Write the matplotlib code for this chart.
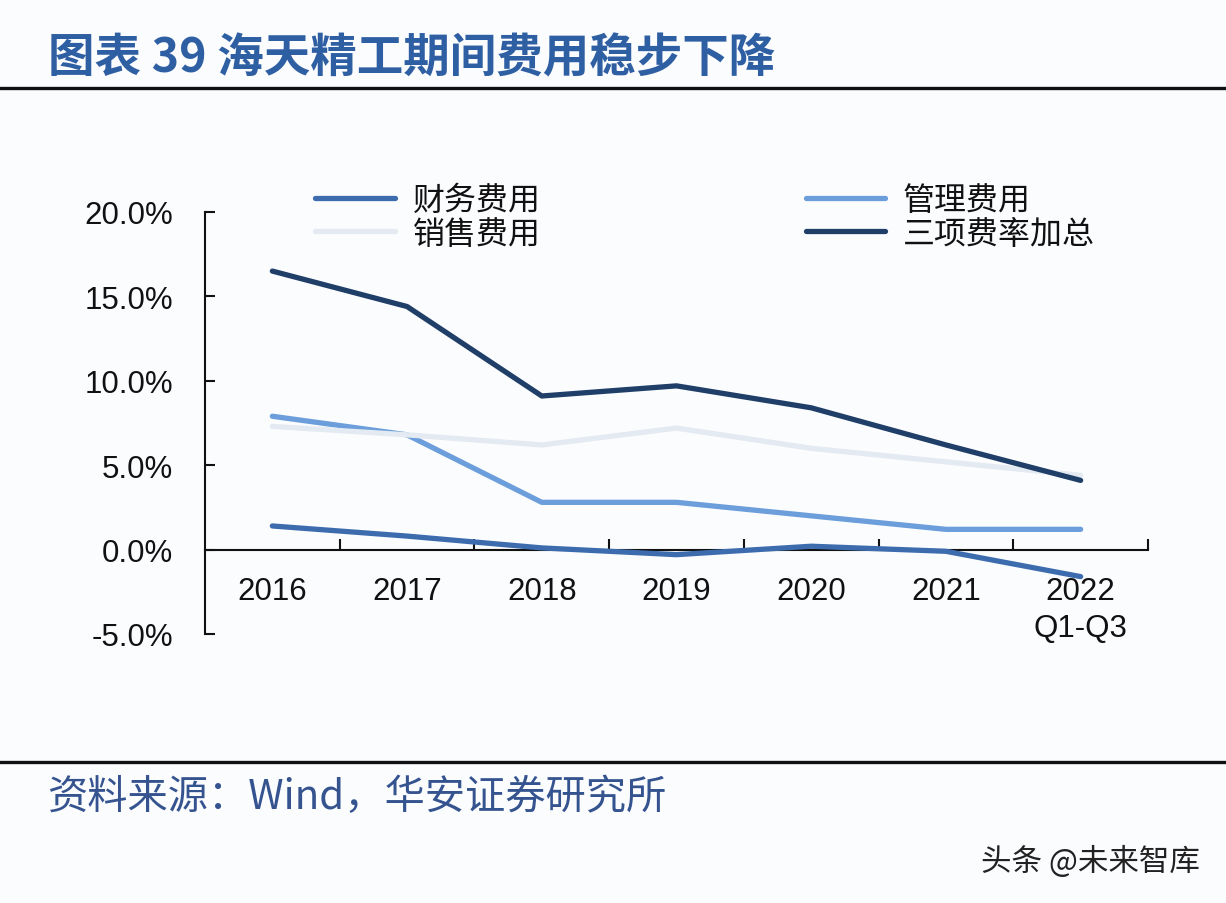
import matplotlib
matplotlib.use("Agg")
import matplotlib.pyplot as plt
from matplotlib.lines import Line2D

plt.rcParams['font.family'] = ['Noto Sans CJK SC', 'DejaVu Sans']

categories = ['2016', '2017', '2018', '2019', '2020', '2021', '2022\nQ1-Q3']
finance = [1.4, 0.8, 0.1, -0.3, 0.2, -0.1, -1.6]      # 财务费用
admin = [7.9, 6.8, 2.8, 2.8, 2.0, 1.2, 1.2]           # 管理费用
sales = [7.3, 6.8, 6.2, 7.2, 6.0, 5.2, 4.4]           # 销售费用
total = [16.5, 14.4, 9.1, 9.7, 8.4, 6.2, 4.1]         # 三项费率加总
yticks = [-5, 0, 5, 10, 15, 20]

W, H = 1226, 904
bg = '#FBFCFE'
fig = plt.figure(figsize=(W / 100, H / 100), dpi=100, facecolor=bg)

# Title and separators
fig.text(48 / W, 1 - 58 / H, '图表 39 海天精工期间费用稳步下降', fontsize=33.5, fontweight='bold',
         color='#2F5FA3', ha='left', va='center')
fig.add_artist(Line2D([0, 1], [1 - 89 / H, 1 - 89 / H], color='#111111', lw=2.4))
fig.add_artist(Line2D([0, 1], [1 - 763 / H, 1 - 763 / H], color='#111111', lw=2.4))
fig.text(48 / W, 1 - 797 / H, '资料来源：Wind，华安证券研究所', fontsize=29, fontweight='light',
         color='#34538F', ha='left', va='center')
fig.text(1200 / W, 1 - 862 / H, '头条 @未来智库', fontsize=22, color='#222222',
         ha='right', va='center')

ax = fig.add_axes([205 / W, (H - 635) / H, 943 / W, 422 / H])
ax.set_facecolor(bg)
x = list(range(len(categories)))

l_fin, = ax.plot(x, finance, color='#3D6CAE', lw=3.8, solid_capstyle='round', zorder=3)
l_adm, = ax.plot(x, admin, color='#6B9EDB', lw=3.8, solid_capstyle='round', zorder=3)
l_sal, = ax.plot(x, sales, color='#E4EAF1', lw=3.8, solid_capstyle='round', zorder=3.5)
l_tot, = ax.plot(x, total, color='#1F3E68', lw=3.8, solid_capstyle='round', zorder=4)

ax.set_xlim(-0.5, len(categories) - 0.5)
ax.set_ylim(-5, 20)

for s in ['top', 'right']:
    ax.spines[s].set_visible(False)
ax.spines['bottom'].set_position(('data', 0))
for s in ['left', 'bottom']:
    ax.spines[s].set_color('#111111')
    ax.spines[s].set_linewidth(1.5)

ax.set_yticks(yticks)
ax.set_yticklabels([f'{v:.1f}%' for v in yticks], family=['Liberation Sans', 'DejaVu Sans'])
ax.tick_params(axis='y', direction='in', length=7, width=1.5, color='#111111',
               labelsize=22.5, pad=23, labelcolor='#111111')

ax.set_xticks(x)
ax.set_xticklabels(categories, family=['Liberation Sans', 'DejaVu Sans'], linespacing=1.3)
ax.set_xticks([i + 0.5 for i in x], minor=True)
ax.tick_params(axis='x', which='major', length=0, labelsize=22.5, pad=19, labelcolor='#111111')
ax.tick_params(axis='x', which='minor', direction='in', length=8, width=1.5, color='#111111')

leg = fig.legend([l_fin, l_sal, l_adm, l_tot], ['财务费用', '销售费用', '管理费用', '三项费率加总'],
                 ncol=2, loc='upper left', bbox_to_anchor=(315 / W, 1 - 185 / H),
                 frameon=False, fontsize=23, handlelength=2.5, handletextpad=0.55,
                 columnspacing=8.3, labelspacing=0.05, borderpad=0, borderaxespad=0)
for t in leg.get_texts():
    t.set_color('#111111')

fig.savefig('out.png', dpi=100, facecolor=bg)
